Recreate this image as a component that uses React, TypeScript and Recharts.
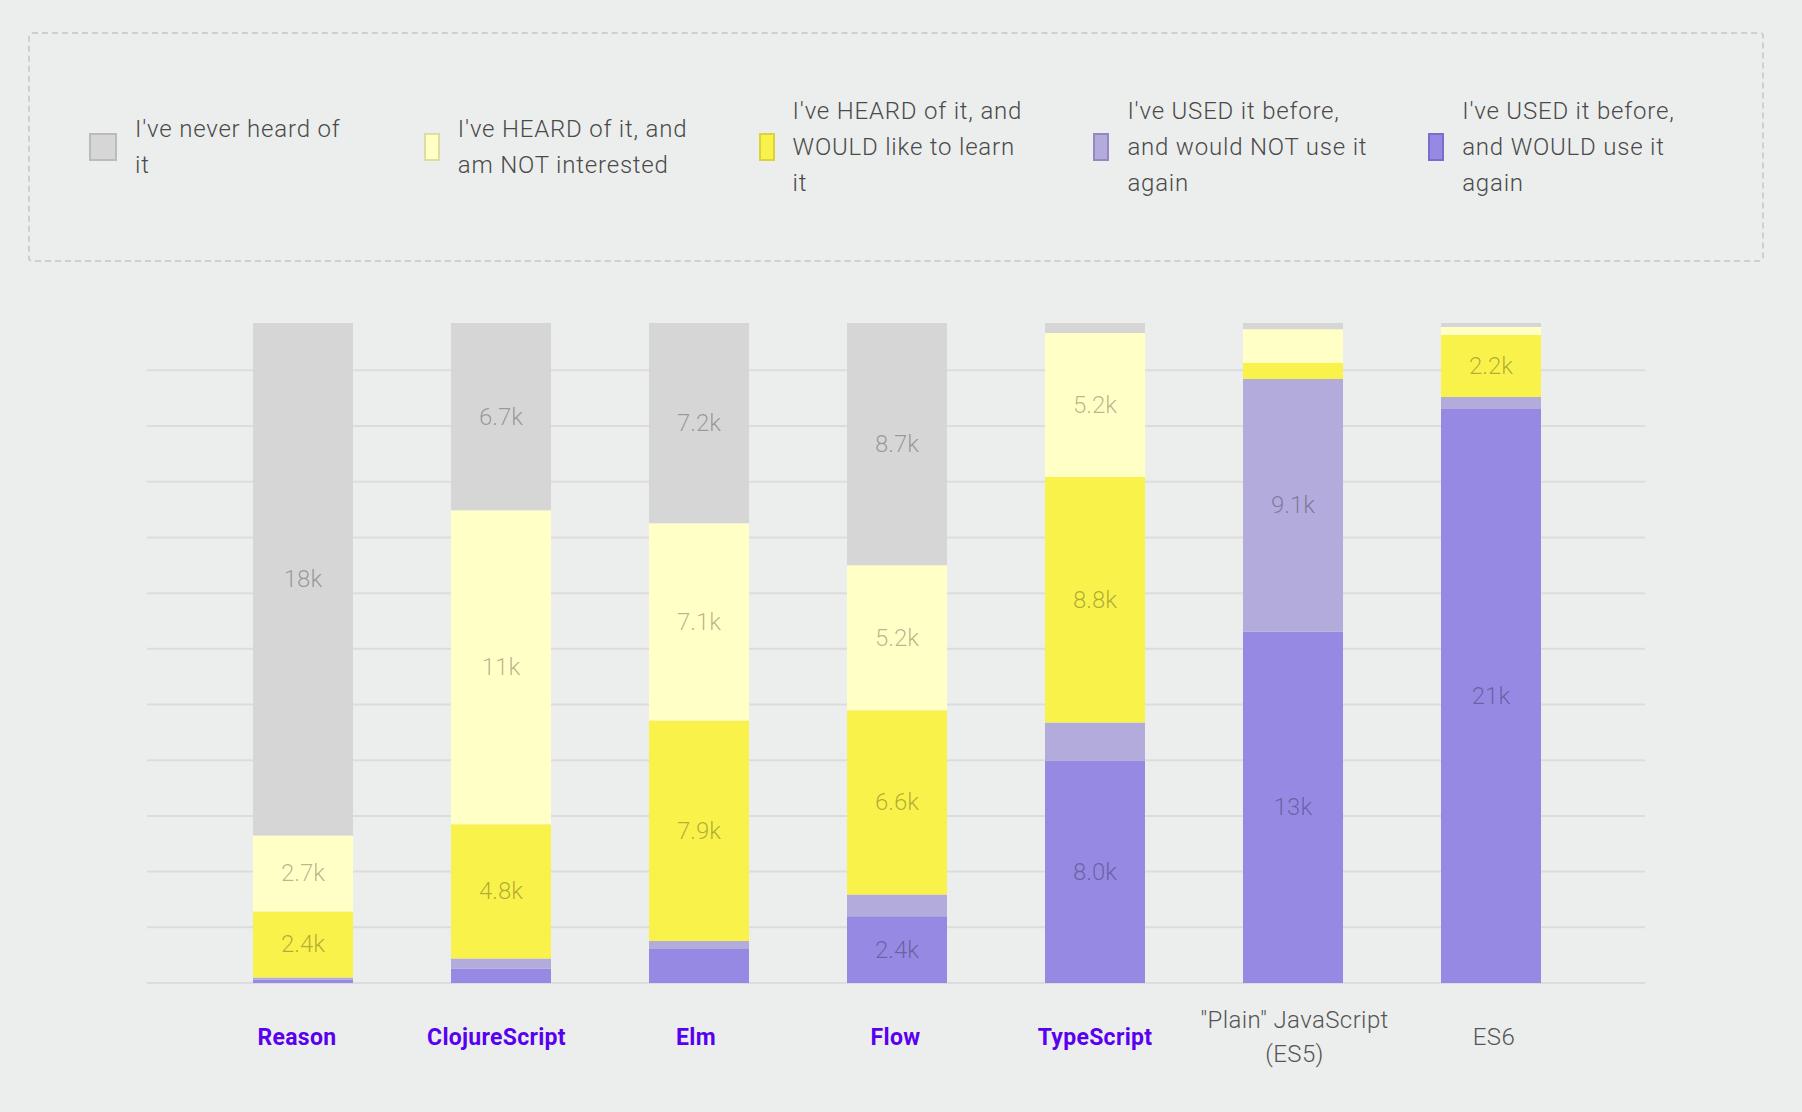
import React from 'react';
import { BarChart, Bar, XAxis, YAxis, CartesianGrid, LabelList } from 'recharts';

const categories = ['Reason', 'ClojureScript', 'Elm', 'Flow', 'TypeScript', '"Plain" JavaScript (ES5)', 'ES6'];
const categoryLines = [['Reason'], ['ClojureScript'], ['Elm'], ['Flow'], ['TypeScript'], ['"Plain" JavaScript', '(ES5)'], ['ES6']];
const categoryHighlighted = [true, true, true, true, true, false, false];

const neverHeard = [18400, 6720, 7190, 8700, 360, 220, 140];
const notInterested = [2730, 11280, 7080, 5210, 5170, 1220, 290];
const wouldLearn = [2370, 4820, 7920, 6610, 8820, 570, 2230];
const usedNotAgain = [70, 360, 290, 780, 1360, 9070, 430];
const usedAgain = [130, 520, 1220, 2400, 7990, 12620, 20610];

const yTicks = [0, 2000, 4000, 6000, 8000, 10000, 12000, 14000, 16000, 18000, 20000, 22000];
const yMax = 23700;

const seriesKeys = ['usedAgain', 'usedNotAgain', 'wouldLearn', 'notInterested', 'neverHeard'];
const seriesValues = [usedAgain, usedNotAgain, wouldLearn, notInterested, neverHeard];
const seriesColors = ['#9689e3', '#b3abdc', '#f9f24b', '#ffffc6', '#d6d6d6'];
const seriesBorders = ['#7b6dc9', '#9489c0', '#ddd23c', '#dedca4', '#bbbbbb'];

const legendKeys = ['neverHeard', 'notInterested', 'wouldLearn', 'usedNotAgain', 'usedAgain'];
const legendLines = [
  ["I've never heard of", 'it'],
  ["I've HEARD of it, and", 'am NOT interested'],
  ["I've HEARD of it, and", 'WOULD like to learn', 'it'],
  ["I've USED it before,", 'and would NOT use it', 'again'],
  ["I've USED it before,", 'and WOULD use it', 'again'],
];

const data = categories.map((name, i) => {
  const row: Record<string, string | number> = { name };
  seriesKeys.forEach((k, j) => {
    row[k] = seriesValues[j][i];
  });
  return row;
});

const FONT = 'Roboto, "Noto Sans", sans-serif';

const formatK = (v: number) => (v >= 10000 ? `${Math.round(v / 1000)}k` : `${(v / 1000).toFixed(1)}k`);

const ValueLabel = (props: any) => {
  const { x, y, width, height, value } = props;
  if (value == null || value < 2000) return null;
  return (
    <text
      x={x + width / 2}
      y={y + height / 2}
      textAnchor="middle"
      dominantBaseline="central"
      fill="rgba(0,0,0,0.3)"
      fontFamily={FONT}
      fontWeight={300}
      fontSize={24}
    >
      {formatK(value)}
    </text>
  );
};

const CategoryTick = (props: any) => {
  const { x, y, payload } = props;
  const idx = categories.indexOf(payload.value);
  const lines = categoryLines[idx] || [String(payload.value)];
  const hl = categoryHighlighted[idx];
  const lh = 34;
  const first = y + 62 - ((lines.length - 1) * lh) / 2;
  const tx = x + (x - 1095) * 0.0076;
  return (
    <text
      x={tx}
      textAnchor="middle"
      fontFamily={FONT}
      fontSize={hl ? 23 : 24}
      fontWeight={hl ? 700 : 300}
      letterSpacing={hl ? 0.3 : 0.4}
      fill={hl ? '#5a00f0' : '#555555'}
    >
      {lines.map((l, i) => (
        <tspan key={i} x={tx} y={first + i * lh}>
          {l}
        </tspan>
      ))}
    </text>
  );
};

const Legend = () => (
  <div
    style={{
      position: 'absolute',
      left: 28,
      top: 32,
      width: 1732,
      height: 226,
      border: '2px dashed #cfcfcf',
      borderRadius: 4,
      boxSizing: 'content-box',
    }}
  >
    {legendKeys.map((k, i) => {
      const si = seriesKeys.indexOf(k);
      return (
        <div
          key={k}
          style={{
            position: 'absolute',
            left: 89 - 30 + i * 334.8,
            top: 147 - 34,
            height: 0,
            display: 'flex',
            alignItems: 'center',
          }}
        >
          <div
            style={{
              width: i === 0 ? 24 : 12,
              height: 24,
              background: seriesColors[si],
              border: `2px solid ${seriesBorders[si]}`,
              flexShrink: 0,
            }}
          />
          <div
            style={{
              marginLeft: 18,
              fontFamily: FONT,
              fontWeight: 300,
              fontSize: 24,
              letterSpacing: 0.8,
              lineHeight: '36px',
              color: '#4a4a4a',
              whiteSpace: 'nowrap',
            }}
          >
            {legendLines[i].map((l, j) => (
              <div key={j}>{l}</div>
            ))}
          </div>
        </div>
      );
    })}
  </div>
);

export default function App() {
  return (
    <div
      style={{
        position: 'absolute',
        left: 0,
        top: 0,
        width: 1802,
        height: 1112,
        background: '#eceeed',
        overflow: 'hidden',
      }}
    >
      <Legend />
      <div style={{ position: 'absolute', left: 0, top: 0 }}>
        <BarChart
          width={1802}
          height={1112}
          data={data}
          margin={{ top: 323, right: 157, left: 147, bottom: 69 }}
        >
          <CartesianGrid vertical={false} stroke="#dcdcdc" strokeWidth={2} horizontalValues={yTicks} />
          <YAxis hide domain={[0, yMax]} ticks={yTicks} allowDataOverflow />
          <XAxis
            dataKey="name"
            padding={{ left: 57, right: 55 }}
            axisLine={false}
            tickLine={false}
            tickSize={0}
            tickMargin={0}
            height={60}
            interval={0}
            tick={<CategoryTick />}
          />
          {seriesKeys.map((k, j) => (
            <Bar
              key={k}
              dataKey={k}
              stackId="a"
              fill={seriesColors[j]}
              barSize={100}
              isAnimationActive={false}
            >
              <LabelList dataKey={k} content={<ValueLabel />} />
            </Bar>
          ))}
        </BarChart>
      </div>
    </div>
  );
}
